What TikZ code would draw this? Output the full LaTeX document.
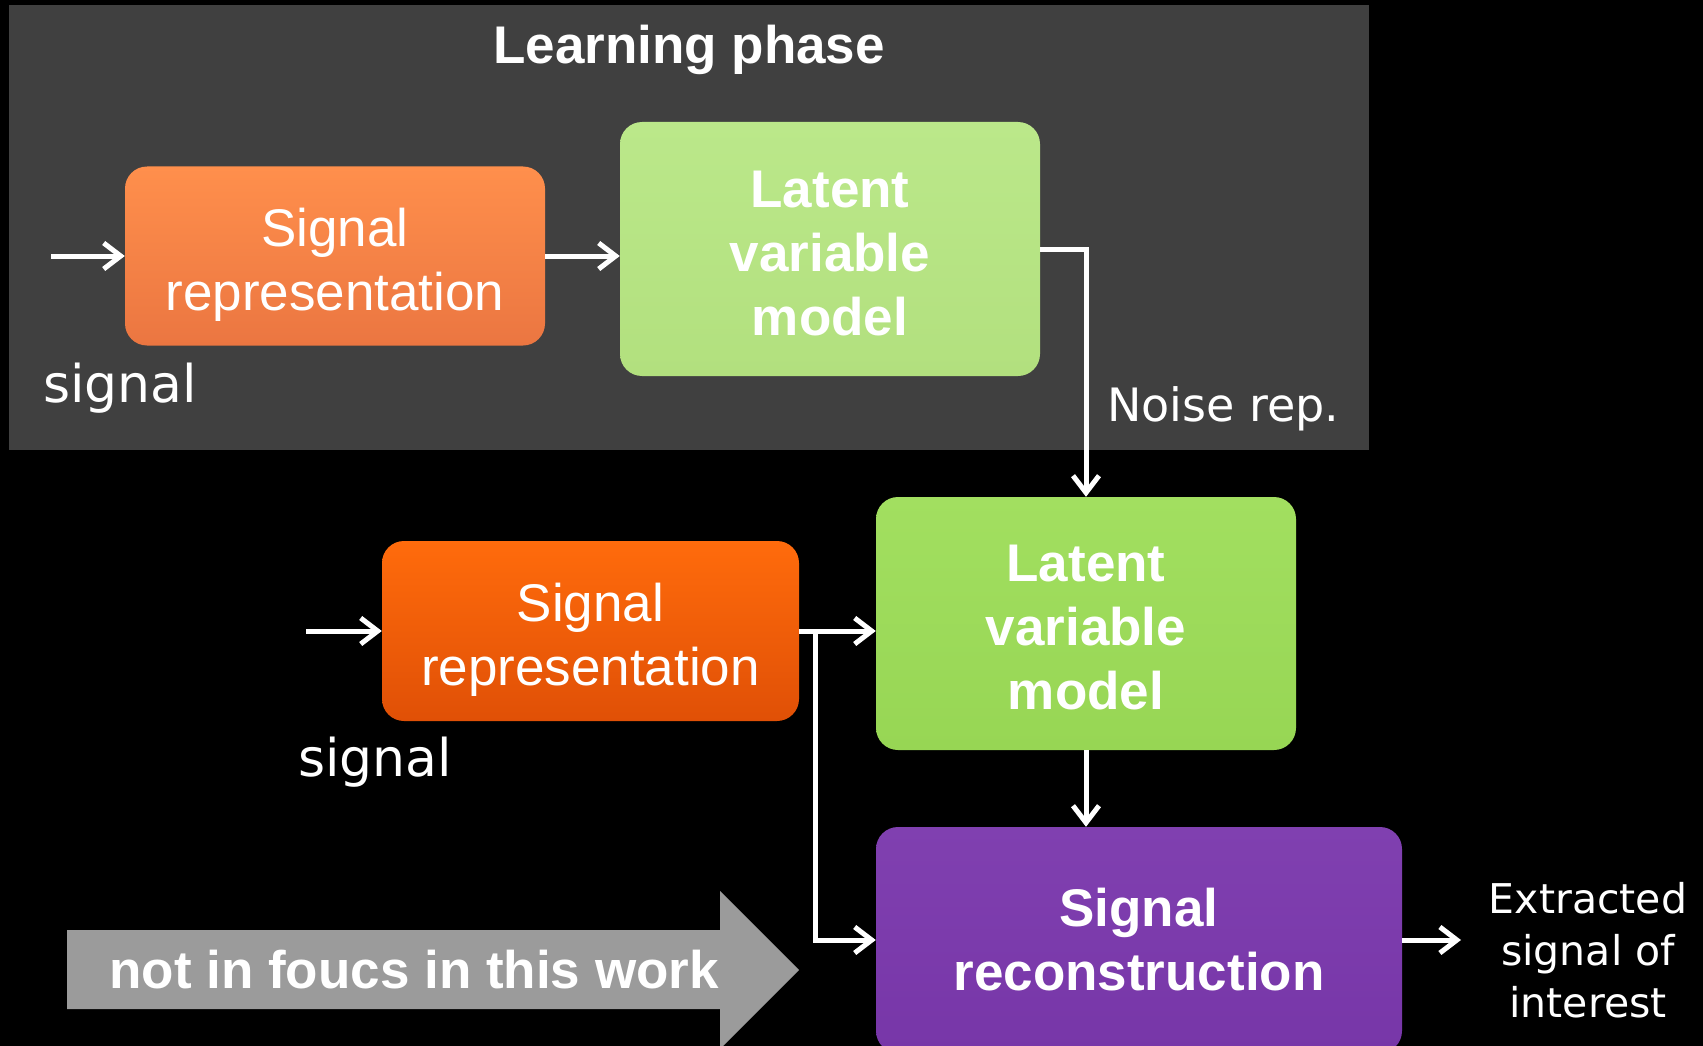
\documentclass[tikz,border=0pt]{standalone}
\usepackage{fontspec}
\setmainfont{Liberation Sans}
\newfontfamily\vfont{DejaVu Sans}
\usetikzlibrary{arrows.meta}
\definecolor{panelgrey}{HTML}{404040}
\definecolor{oranA}{HTML}{FF8F4C}
\definecolor{oranB}{HTML}{EB7641}
\definecolor{orantA}{HTML}{FF6B0C}
\definecolor{orantB}{HTML}{E05006}
\definecolor{greenA}{HTML}{BBE88A}
\definecolor{greenB}{HTML}{B2E07E}
\definecolor{greentA}{HTML}{A2DF60}
\definecolor{greentB}{HTML}{97D654}
\definecolor{purpA}{HTML}{8040B0}
\definecolor{purpB}{HTML}{7736A8}
\definecolor{greyarrow}{HTML}{9B9B9B}
\begin{document}
\begin{tikzpicture}[x=1pt,y=-1pt,
  box/.style={rounded corners=22pt, align=center, text=white, inner sep=0pt},
  regtext/.style={font=\fontsize{53}{64}\selectfont},
  boldtext/.style={font=\fontsize{53}{64}\selectfont\bfseries},
  lbl/.style={text=white, inner sep=0pt, font=\vfont\fontsize{52}{60}\selectfont},
  arr/.style={draw=white, line width=5pt, -{Straight Barb[length=17pt,width=26pt]}}
]
\fill[black] (0,0) rectangle (1703,1046);
\useasboundingbox (0,0) rectangle (1703,1046);
\fill[panelgrey] (9,5) rectangle (1369,450);

\node[text=white, inner sep=0pt, anchor=base, font=\fontsize{53}{64}\selectfont\bfseries] (title) at (689,64) {Learning phase};

% learning phase
\node[box, regtext, top color=oranA, bottom color=oranB, minimum width=420pt, minimum height=179pt] (o1) at (335,256) {\rule{0pt}{55pt}Signal\\representation};
\node[box, boldtext, top color=greenA, bottom color=greenB, minimum width=420pt, minimum height=254pt] (g1) at (830,249) {\rule{0pt}{45pt}Latent\\variable\\model};
\coordinate (in1) at (51,256);
\node[lbl, anchor=base west] (s1) at (43,402) {signal};
\node[lbl, anchor=base west, font=\vfont\fontsize{46}{54}\selectfont] (noise) at (1107,421) {Noise rep.};

% application phase
\node[box, regtext, top color=orantA, bottom color=orantB, minimum width=417pt, minimum height=180pt] (o2) at (590.5,631) {\rule{0pt}{55pt}Signal\\representation};
\node[box, boldtext, top color=greentA, bottom color=greentB, minimum width=420pt, minimum height=253pt] (g2) at (1086,623.5) {\rule{0pt}{45pt}Latent\\variable\\model};
\node[box, boldtext, top color=purpA, bottom color=purpB, minimum width=526pt, minimum height=226pt] (p) at (1139,940) {Signal\\reconstruction};
\coordinate (in2) at (306,631);
\coordinate (br) at (815,631);
\coordinate (out) at (1461,940);
\node[lbl, anchor=base west] (s2) at (298,776) {signal};
\node[text=white, inner sep=0pt, align=center, font=\vfont\fontsize{41}{52}\selectfont] (ext) at (1588,950) {Extracted\\signal of\\interest};

% grey arrow
\fill[greyarrow] (67,930) -- (720,930) -- (720,891) -- (799,970) -- (720,1049) -- (720,1009) -- (67,1009) -- cycle;
\node[text=white, inner sep=0pt, font=\fontsize{53}{64}\selectfont\bfseries] (nf) at (414,970) {not in foucs in this work};

% connectors
\draw[arr] (in1) -- (o1.west |- in1);
\draw[arr] (o1.east |- in1) -- (g1.west |- in1);
\draw[arr] (g1.east) -| (g2.north);
\draw[arr] (in2) -- (o2.west);
\draw[arr] (o2.east) -- (g2.west |- o2.east);
\draw[arr] (br) |- (p.west);
\draw[arr] (g2.south) -- (g2.south |- p.north);
\draw[arr] (p.east) -- (out);
\end{tikzpicture}
\end{document}
